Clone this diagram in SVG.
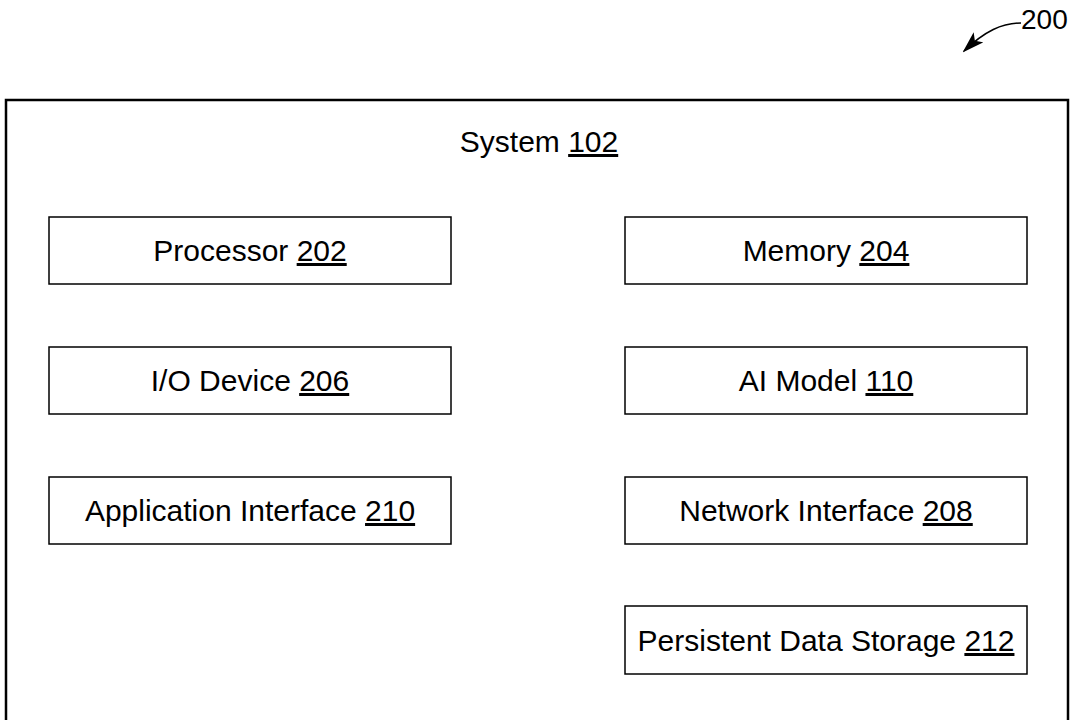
<svg xmlns="http://www.w3.org/2000/svg" width="1072" height="720" viewBox="0 0 1072 720">
<style>
.box{fill:#fff;stroke:#000;stroke-width:1.5}
.t{font-family:"Liberation Sans",Arial,sans-serif;font-size:30px;fill:#000;text-anchor:middle}
</style>
<defs>
<marker id="ah" markerWidth="22" markerHeight="14" refX="20" refY="7" orient="auto" markerUnits="userSpaceOnUse" viewBox="0 0 22 14">
<path d="M0,0 L22,7 L0,14 L5,7 z" fill="#000"/>
</marker>
</defs>
<rect width="1072" height="720" fill="#fff"/>
<g id="system">
<rect x="6" y="100" width="1062" height="660" fill="none" stroke="#000" stroke-width="2.5"/>
<text class="t" x="539" y="152">System <tspan text-decoration="underline">102</tspan></text>
</g>
<g id="processor"><rect class="box" x="49" y="217" width="402" height="67"/><text class="t" x="250" y="261">Processor <tspan text-decoration="underline">202</tspan></text></g>
<g id="memory"><rect class="box" x="625" y="217" width="402" height="67"/><text class="t" x="826" y="261">Memory <tspan text-decoration="underline">204</tspan></text></g>
<g id="io"><rect class="box" x="49" y="347" width="402" height="67"/><text class="t" x="250" y="391">I/O Device <tspan text-decoration="underline">206</tspan></text></g>
<g id="ai"><rect class="box" x="625" y="347" width="402" height="67"/><text class="t" x="826" y="391">AI Model <tspan text-decoration="underline">110</tspan></text></g>
<g id="app"><rect class="box" x="49" y="477" width="402" height="67"/><text class="t" x="250" y="521">Application Interface <tspan text-decoration="underline">210</tspan></text></g>
<g id="net"><rect class="box" x="625" y="477" width="402" height="67"/><text class="t" x="826" y="521">Network Interface <tspan text-decoration="underline">208</tspan></text></g>
<g id="storage"><rect class="box" x="625" y="606" width="402" height="68"/><text class="t" x="826" y="651">Persistent Data Storage <tspan text-decoration="underline">212</tspan></text></g>
<g id="label200">
<text x="1021" y="29" style="font-family:'Liberation Sans',Arial,sans-serif;font-size:28px">200</text>
</g>
<g id="connectors">
<path d="M1021,23 C1002,23 985,31 964,51" fill="none" stroke="#000" stroke-width="1.5" marker-end="url(#ah)"/>
</g>
</svg>
